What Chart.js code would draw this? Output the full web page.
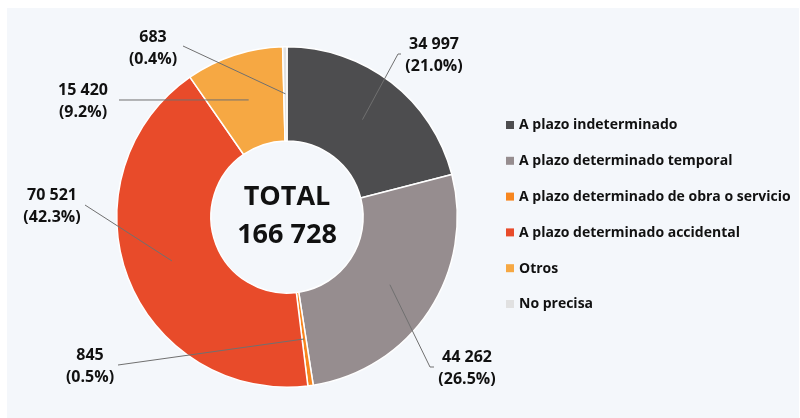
<!DOCTYPE html>
<html>
<head>
<meta charset="utf-8">
<script src="https://cdn.jsdelivr.net/npm/chart.js@4"></script>
<style>
html,body{margin:0;padding:0;background:#ffffff;}
#wrap{width:800px;height:418px;position:relative;}
canvas{display:block;}
</style>
</head>
<body>
<div id="wrap"><canvas id="c" width="800" height="418"></canvas></div>
<script>
// ---------- data ----------
const categories = [
  'A plazo indeterminado',
  'A plazo determinado temporal',
  'A plazo determinado de obra o servicio',
  'A plazo determinado accidental',
  'Otros',
  'No precisa'
];
const values = [34997, 44262, 845, 70521, 15420, 683];
const valueLabels = ['34 997', '44 262', '845', '70 521', '15 420', '683'];
const percentLabels = ['(21.0%)', '(26.5%)', '(0.5%)', '(42.3%)', '(9.2%)', '(0.4%)'];
const totalTitle = 'TOTAL';
const totalValue = '166 728';

// ---------- styles / layout ----------
const colors = ['#4d4d4f', '#968d8f', '#f7861f', '#e84b2a', '#f6a843', '#e1e1e1'];
const FONT = '"Open Sans", "Liberation Sans", sans-serif';
// label block centre and leader end, relative to doughnut centre
const labelLayout = [
  {tx: 147,  ty: -161.5, ex: 111,  ey: -163, bx: 114},
  {tx: 180,  ty: 151,    ex: 143,  ey: 150,  bx: 147},
  {tx: -197, ty: 149.5,  ex: -169, ey: 148,  bx: -169},
  {tx: -235, ty: -11,    ex: -202, ey: -12,  bx: -202},
  {tx: -204, ty: -115.5, ex: -168, ey: -117, bx: -168},
  {tx: -134, ty: -168.5, ex: -104, ey: -171, bx: -104}
];
const legendLayout = {x: 506, y: 125, step: 35.8, box: 8, gap: 13};

const backgroundPlugin = {
  id: 'bg',
  beforeDraw(chart) {
    const ctx = chart.ctx;
    ctx.save();
    ctx.fillStyle = '#ffffff';
    ctx.fillRect(0, 0, chart.width, chart.height);
    ctx.fillStyle = '#f4f7fb';
    ctx.fillRect(7, 8, chart.width - 8, chart.height - 8);
    ctx.restore();
  }
};

const annotatePlugin = {
  id: 'annotate',
  afterDraw(chart) {
    const ctx = chart.ctx;
    const meta = chart.getDatasetMeta(0);
    const arc0 = meta.data[0];
    const cx = arc0.x, cy = arc0.y;
    ctx.save();
    // leader lines and labels
    meta.data.forEach((arc, i) => {
      const p = arc.tooltipPosition();
      const L = labelLayout[i];
      ctx.strokeStyle = '#707070';
      ctx.lineWidth = 1;
      ctx.beginPath();
      ctx.moveTo(p.x, p.y);
      ctx.lineTo(cx + L.ex, cy + L.ey);
      ctx.lineTo(cx + L.bx, cy + L.ey);
      ctx.stroke();
      ctx.fillStyle = '#111111';
      ctx.font = 'bold 16px ' + FONT;
      ctx.textAlign = 'center';
      ctx.textBaseline = 'middle';
      ctx.fillText(valueLabels[i], cx + L.tx, cy + L.ty - 11);
      ctx.fillText(percentLabels[i], cx + L.tx, cy + L.ty + 11);
    });
    // centre total
    ctx.fillStyle = '#111111';
    ctx.font = 'bold 27px ' + FONT;
    ctx.textAlign = 'center';
    ctx.textBaseline = 'middle';
    ctx.fillText(totalTitle, cx, cy - 20);
    ctx.fillText(totalValue, cx, cy + 18);
    // legend
    ctx.font = 'bold 14px ' + FONT;
    ctx.textAlign = 'left';
    chart.data.labels.forEach((lab, i) => {
      const y = legendLayout.y + i * legendLayout.step;
      ctx.fillStyle = chart.data.datasets[0].backgroundColor[i];
      ctx.fillRect(legendLayout.x, y - legendLayout.box / 2, legendLayout.box, legendLayout.box);
      ctx.fillStyle = '#111111';
      ctx.fillText(lab, legendLayout.x + legendLayout.gap, y + 0.5);
    });
    ctx.restore();
  }
};

new Chart(document.getElementById('c'), {
  type: 'doughnut',
  data: {
    labels: categories,
    datasets: [{
      data: values,
      backgroundColor: colors,
      borderColor: '#ffffff',
      borderWidth: 1.5
    }]
  },
  options: {
    responsive: false,
    devicePixelRatio: 1,
    animation: false,
    cutout: '44.7%',
    rotation: 0,
    layout: {padding: {left: 116, right: 342, top: 46, bottom: 30}},
    plugins: {
      legend: {display: false},
      tooltip: {enabled: false},
      title: {display: false}
    }
  },
  plugins: [backgroundPlugin, annotatePlugin]
});
</script>
</body>
</html>
